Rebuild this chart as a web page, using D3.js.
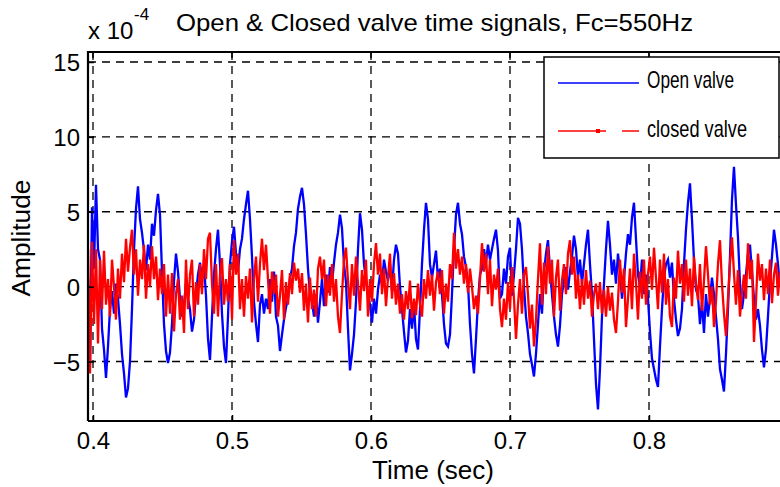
<!DOCTYPE html>
<html>
<head>
<meta charset="utf-8">
<script src="https://cdn.jsdelivr.net/npm/d3@7/dist/d3.min.js"></script>
<style>
  html, body { margin: 0; padding: 0; background: #fff; }
  svg { display: block; }
  text { font-family: "Liberation Sans", Arial, Helvetica, sans-serif; fill: #000; }
</style>
</head>
<body>
<svg id="chart" width="780" height="487"></svg>
<script>
// Sampled signals, amplitude in units of 1e-4, one sample every sampleStep seconds
const startTime = 0.39640;
const sampleStep = 0.0014388;

const openValve = [
  0.5, -5.2, 5.3, 1.2, 6.8, 2.5, 1.8, -2.8, -4.2, -6.1,
  -4, -1.5, -0.3, -1.8, 0.2, -0.8, -2.5, -4.5, -5.8, -7.4,
  -6.8, -5, -1.5, 2.5, 5.2, 6.7, 4.5, 3.6, 2.4, 1.1,
  2.8, 1.8, 4.2, 3.4, 5.1, 6.2, 4.8, 1, -2.5, -4.3,
  -5.1, -4.4, -2.5, 0.4, 2.2, 1, -0.8, -2, -1.2, 0.2,
  -0.8, -1.5, -3, -2.2, -0.5, 0.8, 1.6, 0.5, 1.4, -0.6,
  -3.5, -4.9, -2, 0.8, 2.5, 3.8, 1.5, -1.8, -4, -5.1,
  -2, 1.5, 3, 4, 2.2, 1, 2.5, 3.2, 4.5, 5.5,
  6.4, 4.5, 2, -1, -2.5, -3.7, -1.2, -0.5, -1.8, -0.8,
  -1.5, 0.5, -1, 1, -2, -2.6, -4.3, -3.2, -2.2, -1.4,
  -0.8, 0.6, 1.2, 2.7, 3.6, 5.2, 6, 6.6, 5.5, 3.5,
  1.2, -0.5, -1, -2, -0.5, -2.4, -1, 0.5, -1.3, 0.8,
  -0.4, 1.3, 0.2, 1.6, 2.8, 3.6, 4.8, 3.9, 1.5, 0.3,
  -2.8, -5.6, -4.5, -3.2, -1, 2.5, 4.9, 3.8, 1.5, 0.4,
  -0.5, -1.2, -2.4, -0.8, -1.8, -0.2, 0.8, 0.2, 1.8, 1,
  0.4, 1.5, -0.3, 1.8, 2.8, 2.2, 0, -1.5, -3, -4.4,
  -3.6, -1.5, -2.8, -1.2, -3.5, -4.2, -1.5, 1.5, 3.8, 5.6,
  4.5, 1.5, 0.6, 1.5, 2.4, 0.5, 1.2, -0.5, -2.5, -3.8,
  -4, -3.2, -0.5, 2.5, 4.8, 5.6, 4.2, 3.5, 2, 1.3,
  0.2, -2.5, -4.5, -5.8, -3.5, -1, 0.8, 1.2, 2.5, 1.6,
  2.8, 1.8, 2.5, 3.2, 3.8, 2.4, -0.8, -0.5, 1.2, 0.2,
  2, 2.6, -0.6, 0.8, 2.5, 4.6, 4.2, 2.5, 0, -2,
  -3.1, -4.5, -5.2, -6, -4.5, -2.5, -0.5, -1.8, 1, 2.2,
  3.1, 1.2, -0.5, -2, -3.2, -4, -2.6, -0.5, 0.4, 1.3,
  -0.2, 1, 2, 3.4, 2.5, 0.6, 1.8, 0.2, 1.5, 2.8,
  3.8, 1.5, -0.5, -3.5, -6.5, -8.2, -5.5, -2, 0.2, 2.5,
  4.4, 2.8, 0.8, 1.8, 0.2, 2.2, 1, -0.8, 0.5, 2.2,
  3.5, 2.8, 4.6, 5.6, 3.2, 0.8, 0, 1.8, -0.5, 0.8,
  -0.8, -3, -4.8, -5.5, -6.2, -6.7, -4, -1.5, 0.6, 1.5,
  1.8, 0.6, 1.6, -0.8, -2.2, -3.3, -2.8, -1.5, 1.5, 3.8,
  5.6, 6.9, 4.5, 1.8, -0.2, -0.6, -2.5, -1, -3.1, -0.5,
  -2, -0.8, 0.6, -0.5, -2, -3.5, -5.5, -6.2, -7, -4.5,
  -1.5, 2, 5.8, 8, 5.5, 3.3, 0.2, -1.5, -0.5, 0.8,
  2.2, 2.8, 1, -0.8, -2.2, -1.5, -2.6, -4.2, -5.4, -4.2,
  -2, 0.3, 2, 3.8, 2.8, 1.5, 0
];

const closedValve = [
  2.5, -5.8, 3, -2.5, 2.5, -3.8, 1.8, -1.5, 2.4, -1.2,
  0.5, -2, 1.8, 0, -2.2, 1.2, -0.8, 2.2, 0.3, 3.2,
  1, 2.6, 3.8, 0.8, 2.5, -0.6, 1.8, 0.5, 2.8, -0.8,
  1.5, 0, 2.7, 0.5, 2, -0.9, 1.2, -0.5, 1.5, -2,
  0.8, -1.8, 0.9, -3, -0.5, 0.5, -2.2, -0.6, -3.1, 1.8,
  -1.5, 0.8, 1.8, -2, 0.3, -1.2, 1.5, -0.5, 2.5, 0.5,
  3.2, 3.6, 0.2, -1.8, 1.5, -2, 0.8, 1.9, -1.2, 0.5,
  -1, 1.5, -2.2, 3.1, 0.8, 2.2, -1.5, 0.5, -2, 0.7,
  -0.8, 1.2, -2.4, 0.5, 2, -1, 1.5, 3.2, 1.1, 2.8,
  0.5, -1.8, 1, -0.5, 0.8, -2, -0.6, 1.1, -2.2, 0.3,
  -1.2, 0.9, -0.5, 1.6, 0.4, 1.2, -0.4, 0.9, -1.6, 0.2,
  -2.4, 0.6, -1.5, -0.2, -2, 1.2, 2, 0.5, 1.8, -1.3,
  0.8, -0.6, 1.5, -1, 0.5, -2, -3.1, -0.5, 1.8, 2.6,
  0.4, -1.5, 1.5, -0.6, 2, 0.2, -1.6, 1.1, -0.3, 1.8,
  -2, 0.5, -1, 1.5, 2.9, 0.8, 2.2, -0.5, 1.2, -1.3,
  0.6, 2.2, -0.8, 0.9, -1.2, 0.2, -1.8, -0.5, -2.2, -0.3,
  -1.5, 0.4, -2.1, -0.8, -1.9, 0.2, -1.2, -2, 0.5, -0.8,
  1.1, -0.6, 0.8, -1.6, 0.3, 1, -0.5, 1.1, -1.8, 0.2,
  -1, 1.5, 0.5, 3.6, 1.2, 2.5, 0.8, 2, 0.2, 1.5,
  -0.4, 1.2, 0, -1.5, -0.6, -1.8, 0.5, 2.9, 1, 2.2,
  -0.5, 1.8, -1.3, 0.8, -0.2, 1.2, -1.5, -2.7, -0.8, -2.2,
  0.3, -1.5, 1.3, -0.8, -3.5, -1.2, 0.5, -1.8, 0.8, 1.3,
  -0.5, -2.8, -1.2, -4, -2.2, 0.5, 2.9, -1.2, 1.6, -0.5,
  2.7, 0.2, 1.8, -2, 0.6, 1.8, -1.6, 0.4, 1.5, -0.5,
  2.2, 3.1, 0.8, 2, -0.8, 0.8, -1.5, 0.5, -1.2, 1.1,
  -0.8, 0.4, -2, -0.5, 0.2, -1.5, 0.3, -1.8, -0.2, -2,
  0, -1.6, -0.4, -2.2, -3.1, -1, 1.8, -0.4, 1.2, -2.7,
  -0.8, 1.2, -1.5, 2.2, 0.3, -2.2, 1, -0.8, 1.8, -1.2,
  0.8, 2, -0.2, 2.6, 0.6, -1.5, 1.8, -0.4, 2.2, -1.2,
  0.5, -2, -2.7, 0.6, -0.8, 2.4, 0.2, 1.5, -1, 1.8,
  -0.6, 1.2, -1.3, 2, 0.2, -0.9, 1.5, -1.6, 0.4, 2.7,
  0.8, -1.2, 0, -2.7, -1, 1.5, 3.1, 0.2, -1.8, -3.3,
  -0.8, 1.5, 3.3, 0.9, -1.2, 1.1, -2, -0.4, 0.8, -0.8,
  2.9, 0.5, 1.8, -3.7, -1, 2.2, 0.4, 1.5, -0.9, 1.2,
  -0.5, 1.8, -1.1, 0.8, 1.6, -0.6, 1
];

const xTicks = [0.4, 0.5, 0.6, 0.7, 0.8];
const yTicks = [-5, 0, 5, 10, 15];
const seriesNames = ["Open valve", "closed valve"];
const seriesColors = ["#0000ff", "#ff0000"];

const svg = d3.select("#chart");

// Axes box
const box = { left: 88, top: 52, right: 782, bottom: 421 };

// Reference scales placed by tick positions, then widened to the box edges
const xRef = d3.scaleLinear().domain([0.4, 0.8]).range([93, 649]);
const yRef = d3.scaleLinear().domain([-5, 15]).range([361.5, 62]);
const x = d3.scaleLinear()
  .domain([xRef.invert(box.left), xRef.invert(box.right)])
  .range([box.left, box.right]);
const y = d3.scaleLinear()
  .domain([yRef.invert(box.bottom), yRef.invert(box.top)])
  .range([box.bottom, box.top]);

const toPoints = vals => vals.map((v, i) => [startTime + i * sampleStep, v]);

svg.append("defs").append("clipPath").attr("id", "plotClip")
  .append("rect")
  .attr("x", box.left).attr("y", box.top)
  .attr("width", box.right - box.left).attr("height", box.bottom - box.top);

// Dashed grid
const grid = svg.append("g").attr("stroke", "#000").attr("stroke-width", 1.3)
  .attr("stroke-dasharray", "8,6");
grid.selectAll("line.gx").data(xTicks).join("line")
  .attr("x1", d => x(d)).attr("x2", d => x(d))
  .attr("y1", box.top).attr("y2", box.bottom);
grid.selectAll("line.gy").data(yTicks).join("line")
  .attr("x1", box.left).attr("x2", box.right)
  .attr("y1", d => y(d)).attr("y2", d => y(d));

// Signals
const line = d3.line().x(d => x(d[0])).y(d => y(d[1]));
const plot = svg.append("g").attr("clip-path", "url(#plotClip)");
[openValve, closedValve].forEach((vals, k) => {
  plot.append("path")
    .datum(toPoints(vals))
    .attr("fill", "none")
    .attr("stroke", seriesColors[k])
    .attr("stroke-width", 2.3)
    .attr("stroke-linejoin", "miter")
    .attr("d", line);
});

// Axes with inward ticks
const xAxis = d3.axisBottom(x).tickValues(xTicks).tickSizeInner(-6).tickSizeOuter(0)
  .tickFormat(d3.format(".1f"));
const gx = svg.append("g").attr("transform", `translate(0,${box.bottom})`).call(xAxis);
const yAxis = d3.axisLeft(y).tickValues(yTicks).tickSizeInner(-6).tickSizeOuter(0)
  .tickFormat(d3.format("d"));
const gy = svg.append("g").attr("transform", `translate(${box.left},0)`).call(yAxis);
[gx, gy].forEach(g => {
  g.select(".domain").remove();
  g.selectAll(".tick line").attr("stroke", "#000").attr("stroke-width", 1.5);
  g.selectAll(".tick text")
    .style("font-family", "'Liberation Sans', Arial, sans-serif")
    .style("font-size", "24px").attr("fill", "#000");
});
gx.selectAll(".tick text").attr("dy", "0").attr("y", 28);
gy.selectAll(".tick text").attr("x", -8).attr("dy", "0.36em");

// Top ticks
svg.append("g").selectAll("line").data(xTicks).join("line")
  .attr("x1", d => x(d)).attr("x2", d => x(d))
  .attr("y1", box.top).attr("y2", box.top + 6)
  .attr("stroke", "#000").attr("stroke-width", 1.5);

// Box outline
svg.append("path")
  .attr("d", `M${box.left},${box.bottom}H${box.right}M${box.left},${box.bottom}V${box.top}H${box.right}`)
  .attr("fill", "none").attr("stroke", "#000").attr("stroke-width", 2.2);

// Axis titles
svg.append("text").attr("x", 433).attr("y", 479).attr("text-anchor", "middle")
  .style("font-size", "25px").attr("textLength", 122).attr("lengthAdjust", "spacingAndGlyphs")
  .text("Time (sec)");
svg.append("text").attr("transform", "translate(30,238) rotate(-90)")
  .attr("text-anchor", "middle").style("font-size", "25px")
  .attr("textLength", 117).attr("lengthAdjust", "spacingAndGlyphs").text("Amplitude");

// Exponent label and title
svg.append("text").attr("x", 88).attr("y", 39).style("font-size", "24px").text("x 10");
svg.append("text").attr("x", 134).attr("y", 20).style("font-size", "17px").text("-4");
svg.append("text").attr("x", 176).attr("y", 31).style("font-size", "24px")
  .attr("textLength", 517).attr("lengthAdjust", "spacingAndGlyphs")
  .text("Open & Closed valve time signals, Fc=550Hz");

// Legend
const lg = svg.append("g");
lg.append("rect").attr("x", 544).attr("y", 57).attr("width", 235).attr("height", 101)
  .attr("fill", "#fff").attr("stroke", "#000").attr("stroke-width", 1.5);
lg.append("line").attr("x1", 558).attr("x2", 639).attr("y1", 83).attr("y2", 83)
  .attr("stroke", seriesColors[0]).attr("stroke-width", 1.5);
lg.append("line").attr("x1", 558).attr("x2", 606).attr("y1", 131).attr("y2", 131)
  .attr("stroke", seriesColors[1]).attr("stroke-width", 1.5);
lg.append("line").attr("x1", 622).attr("x2", 639).attr("y1", 131).attr("y2", 131)
  .attr("stroke", seriesColors[1]).attr("stroke-width", 1.5);
lg.append("rect").attr("x", 596).attr("y", 129).attr("width", 4).attr("height", 4)
  .attr("fill", seriesColors[1]);
lg.selectAll("text.lab").data(seriesNames).join("text")
  .attr("x", 647).attr("y", (d, i) => [88, 137][i])
  .style("font-size", "24px")
  .attr("textLength", (d, i) => [87, 100][i]).attr("lengthAdjust", "spacingAndGlyphs")
  .text(d => d);
</script>
</body>
</html>
